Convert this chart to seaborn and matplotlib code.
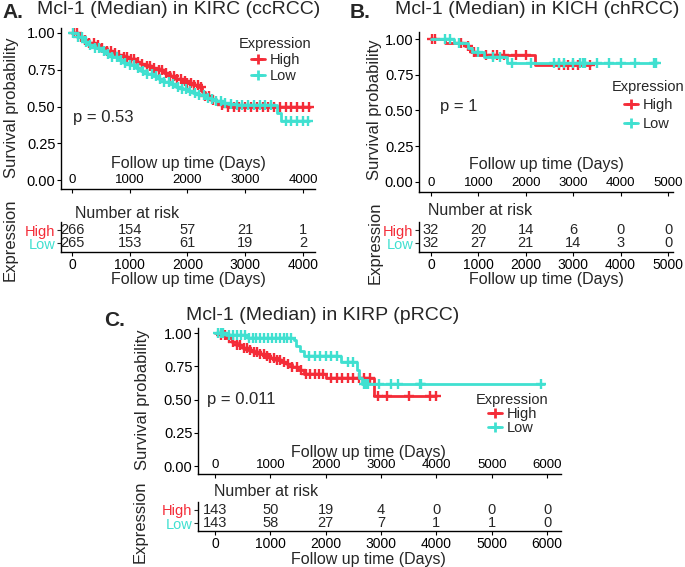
import numpy as np
import matplotlib
matplotlib.use("Agg")
import matplotlib.pyplot as plt
from matplotlib.lines import Line2D
import seaborn as sns

sns.set_theme(style="white")
plt.rcParams["font.family"] = ["Liberation Sans", "DejaVu Sans"]

RED = "#F42C38"
CYAN = "#40E0D0"

# ── KIRC (ccRCC) ─────────────────────────────────────────────────────────────
kirc_high_t = [0, 100, 200, 300, 400, 500, 600, 700, 800, 900, 1000, 1100, 1200, 1300,
               1400, 1500, 1600, 1700, 1800, 1900, 2000, 2100, 2200, 2250, 2300, 2400,
               2500, 2600, 2700]
kirc_high_s = [1.0, 0.975, 0.955, 0.935, 0.92, 0.9, 0.88, 0.865, 0.85, 0.835, 0.82, 0.805,
               0.79, 0.775, 0.76, 0.745, 0.73, 0.71, 0.69, 0.675, 0.66, 0.645, 0.63, 0.6,
               0.57, 0.545, 0.525, 0.51, 0.50]
kirc_high_end = 4120
kirc_high_cens = [30, 80, 150, 220, 300, 380, 450, 520, 600, 680, 750, 820, 900, 960, 1020,
                  1080, 1150, 1220, 1300, 1350, 1420, 1500, 1560, 1620, 1700, 1760, 1820,
                  1880, 1950, 2000, 2060, 2120, 2180, 2230, 2300, 2380, 2450, 2600, 2700,
                  2800, 2900, 3000, 3100, 3200, 3300, 3400, 3500, 3600, 3700, 3800, 3900,
                  4000, 4100]
kirc_low_t = [0, 100, 200, 300, 400, 500, 600, 700, 800, 900, 1000, 1100, 1200, 1300, 1400,
              1500, 1600, 1700, 1800, 1900, 2000, 2100, 2200, 2300, 2400, 2500, 2600, 2700,
              2850, 3545, 3620]
kirc_low_s = [1.0, 0.97, 0.94, 0.915, 0.895, 0.875, 0.855, 0.835, 0.815, 0.795, 0.78, 0.76,
              0.74, 0.72, 0.705, 0.69, 0.67, 0.65, 0.635, 0.62, 0.605, 0.59, 0.575, 0.56,
              0.55, 0.535, 0.525, 0.515, 0.51, 0.455, 0.40]
kirc_low_end = 4100
kirc_low_cens = [20, 100, 170, 250, 320, 400, 470, 550, 620, 700, 780, 850, 920, 1000, 1080,
                 1150, 1230, 1300, 1380, 1450, 1530, 1600, 1680, 1750, 1830, 1900, 1980,
                 2050, 2130, 2200, 2280, 2350, 2430, 2500, 2580, 2650, 2750, 2850, 2950,
                 3050, 3150, 3250, 3350, 3450, 3700, 3800, 3900, 4000, 4080]
kirc_risk_t = [0, 1000, 2000, 3000, 4000]
kirc_risk_high = [266, 154, 57, 21, 1]
kirc_risk_low = [265, 153, 61, 19, 2]

# ── KICH (chRCC) ─────────────────────────────────────────────────────────────
kich_high_t = [0, 290, 720, 790, 850, 920, 2190]
kich_high_s = [1.0, 0.969, 0.95, 0.93, 0.91, 0.89, 0.82]
kich_high_end = 3360
kich_high_cens = [30, 80, 640, 780, 900, 1150, 1300, 1400, 1550, 1800, 2000, 2700, 2800,
                  2900, 3000, 3100, 3350]
kich_low_t = [0, 480, 780, 860, 1120, 1600]
kich_low_s = [1.0, 0.969, 0.938, 0.906, 0.872, 0.834]
kich_low_end = 4750
kich_low_cens = [300, 400, 600, 1000, 1300, 1450, 1700, 2100, 2600, 2700, 2800, 3000,
                 3150, 3200, 3250, 3500, 3750, 4000, 4300, 4700, 4750]
kich_risk_t = [0, 1000, 2000, 3000, 4000, 5000]
kich_risk_high = [32, 20, 14, 6, 0, 0]
kich_risk_low = [32, 27, 21, 14, 3, 0]

# ── KIRP (pRCC) ──────────────────────────────────────────────────────────────
kirp_high_t = [0, 100, 200, 300, 400, 500, 600, 700, 800, 900, 1000, 1100, 1200, 1300,
               1400, 1500, 1600, 2000, 2880]
kirp_high_s = [1.0, 0.985, 0.96, 0.935, 0.91, 0.89, 0.87, 0.855, 0.84, 0.825, 0.81, 0.795,
               0.78, 0.765, 0.745, 0.72, 0.69, 0.665, 0.525]
kirp_high_end = 4000
kirp_high_cens = [100, 180, 260, 330, 400, 460, 520, 580, 640, 700, 760, 820, 880, 940,
                  1000, 1060, 1120, 1180, 1250, 1320, 1400, 1480, 1560, 1640, 1720, 1800,
                  1880, 1960, 2100, 2200, 2300, 2400, 2500, 2600, 2700, 2800, 2950, 3100,
                  3500, 3880, 4000]
kirp_low_t = [0, 200, 600, 1420, 1470, 1530, 1600, 2280, 2560, 2610, 2660]
kirp_low_s = [1.0, 0.985, 0.965, 0.945, 0.9, 0.865, 0.825, 0.785, 0.72, 0.66, 0.62]
kirp_low_end = 5950
kirp_low_cens = [50, 100, 150, 250, 320, 400, 470, 540, 610, 680, 750, 820, 890, 960,
                 1030, 1100, 1170, 1240, 1310, 1380, 1700, 1800, 1900, 2000, 2100, 2200,
                 2400, 2500, 2700, 2730, 2760, 2970, 3180, 3300, 3700, 3720, 5900]
kirp_risk_t = [0, 1000, 2000, 3000, 4000, 5000, 6000]
kirp_risk_high = [143, 50, 19, 4, 0, 0, 0]
kirp_risk_low = [143, 58, 27, 7, 1, 1, 0]

W, H = 685, 567
fig = plt.figure(figsize=(W / 100, H / 100), dpi=100)
fig.patch.set_facecolor("white")


def add_ax(left, top, right, bottom):
    return fig.add_axes([left / W, 1 - bottom / H, (right - left) / W, (bottom - top) / H])


def ftext(x, y, s, **kw):
    fig.text(x / W, 1 - y / H, s, **kw)


def draw_curve(ax, t, s, end, cens, color):
    tt = list(t) + [end]
    ss = list(s) + [s[-1]]
    sns.lineplot(x=tt, y=ss, drawstyle="steps-post", color=color, linewidth=2.0,
                 estimator=None, ax=ax)
    idx = np.searchsorted(t, cens, side="right") - 1
    cy = np.array(s)[idx]
    ax.plot(cens, cy, linestyle="none", marker="+", color=color, markersize=6.5,
            markeredgewidth=1.7)


def style_main(ax, xlim, ylim, xticks, xlab_frac, xlab_x=0.5):
    ax.set_xlim(xlim)
    ax.set_ylim(ylim)
    ax.set_xticks(xticks)
    ax.set_xticklabels([str(v) for v in xticks])
    ax.set_yticks([0, 0.25, 0.5, 0.75, 1.0])
    ax.set_yticklabels(["0.00", "0.25", "0.50", "0.75", "1.00"])
    for side in ["top", "right"]:
        ax.spines[side].set_visible(False)
    for side in ["left", "bottom"]:
        ax.spines[side].set_color("black")
        ax.spines[side].set_linewidth(1.0)
    ax.tick_params(axis="x", direction="out", length=3, width=0.8, pad=-14,
                   labelsize=9.5, colors="black", bottom=True)
    ax.tick_params(axis="y", direction="out", length=3, width=0.8, pad=1,
                   labelsize=10.5, colors="black", left=True)
    ax.set_xlabel("Follow up time (Days)", fontsize=11.5)
    ax.xaxis.set_label_coords(xlab_x, xlab_frac)
    ax.xaxis.label.set_va("center")
    ax.set_ylabel("")
    ax.patch.set_alpha(0)


def style_table(ax, xlim, ylim, ticks, high, low, nar_x, nar_y):
    ax.set_xlim(xlim)
    ax.set_ylim(ylim)
    ax.set_xticks(ticks)
    ax.set_xticklabels([str(v) for v in ticks])
    ax.set_yticks([0, 1])
    ax.set_yticklabels(["Low", "High"])
    ax.get_yticklabels()[0].set_color(CYAN)
    ax.get_yticklabels()[1].set_color(RED)
    for side in ["top", "right"]:
        ax.spines[side].set_visible(False)
    for side in ["left", "bottom"]:
        ax.spines[side].set_color("black")
        ax.spines[side].set_linewidth(1.0)
    ax.tick_params(axis="x", direction="out", length=3, width=0.8, pad=1,
                   labelsize=10, colors="black", bottom=True)
    ax.tick_params(axis="y", direction="out", length=3, width=0.8, pad=1,
                   labelsize=10.5, left=True)
    for t, h, l in zip(ticks, high, low):
        ax.text(t, 1, str(h), ha="center", va="center", fontsize=10.5)
        ax.text(t, 0, str(l), ha="center", va="center", fontsize=10.5)
    ax.text(nar_x, nar_y, "Number at risk", transform=ax.transAxes, ha="left",
            va="center", fontsize=11.5)
    ax.set_xlabel("Follow up time (Days)", fontsize=11.5)
    ax.xaxis.set_label_coords(0.5, -0.93)
    ax.xaxis.label.set_va("center")
    ax.set_ylabel("")
    ax.patch.set_alpha(0)


def add_legend(ax, x, y, spacing):
    handles = [Line2D([0], [0], color=RED, lw=2, marker="+", ms=7, mew=2),
               Line2D([0], [0], color=CYAN, lw=2, marker="+", ms=7, mew=2)]
    ax.legend(handles, ["High", "Low"], title="Expression", loc="upper left",
              bbox_to_anchor=(x / W, 1 - y / H), bbox_transform=fig.transFigure,
              frameon=False, fontsize=10.5, title_fontsize=10.5, handlelength=1.0,
              handletextpad=0.3, borderpad=0, borderaxespad=0, labelspacing=spacing)


# ── Panel A ─────────────────────────────────────────────────────────────────
axA = add_ax(61, 28, 315, 189)
draw_curve(axA, kirc_high_t, kirc_high_s, kirc_high_end, kirc_high_cens, RED)
draw_curve(axA, kirc_low_t, kirc_low_s, kirc_low_end, kirc_low_cens, CYAN)
style_main(axA, (-190, 4208), (-0.061, 1.034), kirc_risk_t, 0.161)
axA.text(0.047, 0.447, "p = 0.53", transform=axA.transAxes, fontsize=12, va="center")
add_legend(axA, 239, 37, 0.14)
ftext(2, 12, "A.", fontsize=15, fontweight="bold", va="center")
ftext(37, 10, "Mcl-1 (Median) in KIRC (ccRCC)", fontsize=14, va="center")
ftext(12, 108, "Survival probability", fontsize=12, rotation=90, va="center", ha="center")

tA = add_ax(61, 222, 315, 252)
style_table(tA, (-190, 4208), (-0.69, 1.615), kirc_risk_t, kirc_risk_high, kirc_risk_low,
            0.055, 1.27)
ftext(10, 240, "Expression", fontsize=12, rotation=90, va="center", ha="center")

# ── Panel B ─────────────────────────────────────────────────────────────────
axB = add_ax(419, 32, 673, 192)
draw_curve(axB, kich_high_t, kich_high_s, kich_high_end, kich_high_cens, RED)
draw_curve(axB, kich_low_t, kich_low_s, kich_low_end, kich_low_cens, CYAN)
style_main(axB, (-253, 5105), (-0.07, 1.049), kich_risk_t, 0.169)
axB.text(0.083, 0.535, "p = 1", transform=axB.transAxes, fontsize=12, va="center")
add_legend(axB, 612, 80, 0.3)
ftext(350, 13, "B.", fontsize=15, fontweight="bold", va="center")
ftext(395, 10, "Mcl-1 (Median) in KICH (chRCC)", fontsize=14, va="center")
ftext(375, 110, "Survival probability", fontsize=12, rotation=90, va="center", ha="center")

tB = add_ax(419, 222, 673, 252)
style_table(tB, (-253, 5105), (-0.69, 1.615), kich_risk_t, kich_risk_high, kich_risk_low,
            0.035, 1.37)
ftext(375, 243, "Expression", fontsize=12, rotation=90, va="center", ha="center")

# ── Panel C ─────────────────────────────────────────────────────────────────
axC = add_ax(198, 328, 561, 474)
draw_curve(axC, kirp_high_t, kirp_high_s, kirp_high_end, kirp_high_cens, RED)
draw_curve(axC, kirp_low_t, kirp_low_s, kirp_low_end, kirp_low_cens, CYAN)
style_main(axC, (-307, 6253), (-0.06, 1.038), kirp_risk_t, 0.15, 0.47)
axC.text(0.025, 0.507, "p = 0.011", transform=axC.transAxes, fontsize=12, va="center")
add_legend(axC, 476, 393, 0.0)
ftext(104, 320, "C.", fontsize=15, fontweight="bold", va="center")
ftext(186, 315, "Mcl-1 (Median) in KIRP (pRCC)", fontsize=14, va="center")
ftext(143, 400, "Survival probability", fontsize=12, rotation=90, va="center", ha="center")

tC = add_ax(198, 502, 561, 531)
style_table(tC, (-307, 6253), (-0.615, 1.615), kirp_risk_t, kirp_risk_high, kirp_risk_low,
            0.044, 1.345)
tC.xaxis.set_label_coords(0.47, -0.97)
ftext(140, 522, "Expression", fontsize=12, rotation=90, va="center", ha="center")

fig.savefig("out.png", dpi=100, facecolor="white")
